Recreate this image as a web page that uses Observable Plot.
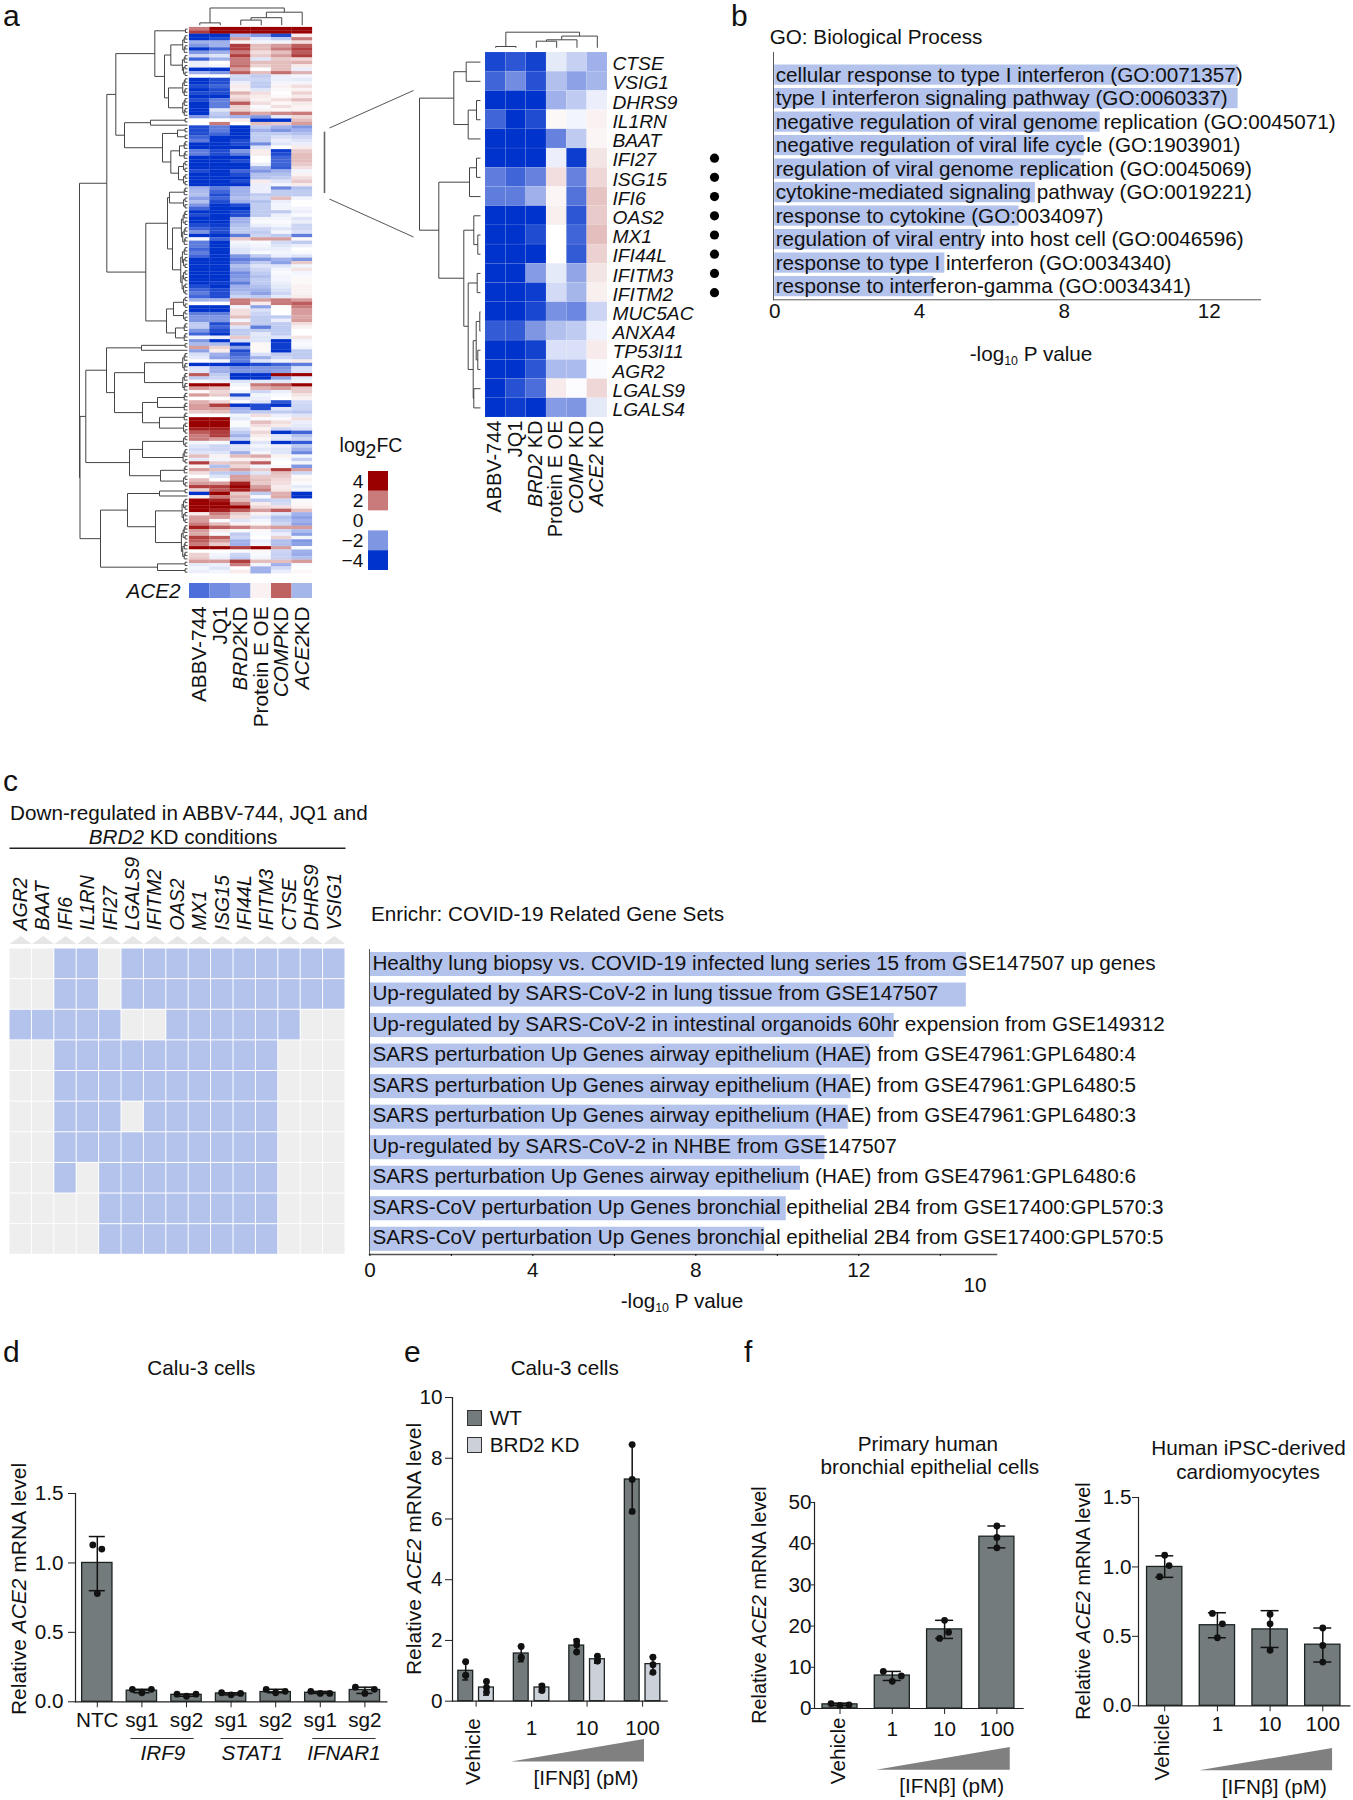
<!DOCTYPE html>
<html><head><meta charset="utf-8">
<script src="https://cdn.jsdelivr.net/npm/d3@7"></script>
<script src="https://cdn.jsdelivr.net/npm/@observablehq/plot@0.6"></script>
<style>
html,body{margin:0;padding:0;background:#fff}
#root{position:relative;width:1353px;height:1800px;overflow:hidden;font-family:"Liberation Sans",Arial,sans-serif;color:#111}
.lb{position:absolute;white-space:nowrap;line-height:1}
.lb sub{font-size:60%;line-height:0;vertical-align:-0.35em}
.lb sub.full{font-size:100%;vertical-align:-0.3em}
</style></head><body><div id="root"></div>
<script>
// ---------- data: panel a ----------
const conditionsMain=["ABBV-744","JQ1","BRD2KD","Protein E OE","COMPKD","ACE2KD"];
const conditionsZoom=["ABBV-744","JQ1","BRD2 KD","Protein E OE","COMP KD","ACE2 KD"];
const ace2Row=[-2.8,-2.2,-1.8,0.2,2.4,-1.4];
const heatUpper=[
[2,4,4,4,4,4],[3,4,4,4,4,4],[-4,-4,-1.5,-2,-3.5,0.3],[-4,-3.5,1.5,-0.5,-1,2],[-1.5,-1.5,0.2,-0.2,-0.2,0.5],
[-2,-1.5,3,1,1.5,2.5],[-4,-3,3,1,2,3],[-2,-1.5,2,0.5,1,2.5],[-0.7,-0.5,3,0.8,1.5,3],
[-3,-1.5,2,-0.5,0.8,0.6],[-0.3,0,2,1,1,1.2],[-0.3,-0.2,2.3,0.7,1,0.3],[-4,-4,1.5,0,1,-0.3],
[-1.5,-2,2.5,1,2.2,1.2],[0,0,-0.7,-1,-0.3,-0.2],[-4,-3.5,-0.8,-0.8,-0.3,-0.4],[-4,-3.5,-0.3,-1,-0.2,-0.2],
[-3.5,-3,0.3,-1,0.2,0.5],[-4,-3.5,0.2,-0.5,0.1,0.2],[-3.5,-3.5,1.2,0.5,0,0.7],
[-4,-4,0.5,0.3,0.1,0.3],[-3.5,-2.5,0.8,0.2,0.5,1],[-4,-2.5,2.5,0.5,0.1,0.3],[-4,-2.5,0.7,-0.1,0.5,0.2],
[-4,-0.5,0.7,0.2,0.1,0.2],[-4,-1,2.2,1.3,1.8,2],[-2,-1.2,-1.5,-2,-0.4,0.6],[0,0,0.3,-4,-4,1],[0,2,0,1,0.8,1.5]];
const heatBlue=[
[-3.5,-2.5,-4,-1,-1.5,-2],[-3.5,-2.5,-4,-1.5,-2,-1.5],[-3.5,-3,-4,-1,-1,-1.2],[-3,-4,-4,-1,-0.6,-0.8],
[-2.5,-4,-3.5,-1,-0.3,-0.5],[-4,-4,-3.5,-2.2,-0.5,-0.3],[-4,-4,-4,-0.5,0,0.3],[-2.5,-3.5,-2,0.3,-3.8,0.8],[-2.5,-3.5,-2.5,0.3,-3.5,1],
[-4,-4,-4,0,-3,1],[-4,-4,-3.5,0,-3,1],[-4,-4,-4,-0.3,-3,0.8],[-4,-4,-4,-1.5,-3.2,0.5],
[-3.5,-4,-3,-2,-1.5,-0.2],[-4,-4,-3.5,-1.2,-1.2,0.2],[-4,-4,-4,-1.2,-1,0.5],[-4,-4,-3.5,0.3,-0.5,0.8],
[-4,-4,-4,-0.3,-0.2,0.3],[-1.5,-2.5,-1.5,-0.3,-2.3,-1.2],[-1.3,-3,-1.5,-0.3,-1,-1],[-1.2,-3.5,-1.5,-1,-1,-1],
[-1.8,-3,-1.2,-0.8,1,-0.2],[-1.2,-3.5,-1.5,-1.2,-0.3,0],[-2,-4,-3.5,-1,-0.2,0],[-3,-4,-4,-1,-0.2,-0.2],[-4,-4,-3.5,-1,-1,-0.3],
[-3.5,-4,-3.5,-1,-0.3,-0.1],[-4,-4,-1.5,-0.2,-0.2,-0.5],[-4,-4,-1.5,-0.1,-0.1,-0.3],[-3.5,-3.8,-1.2,-0.3,-0.2,-0.8],
[-3,-3.5,-1,-0.8,-0.5,-0.8],[-2,-3.5,-1,-1,-0.2,-0.6],[-4,-4,-2.5,-0.8,-1,-2.5],[-0.2,-3,0.8,1.5,1.5,0.1],
[-2.5,-4,-0.2,-0.1,-0.7,-1],[-2.5,-4,-0.3,-0.2,-0.5,-0.3],[-3,-4,-0.5,-0.3,-0.3,0],[-2.5,-4,-0.5,-0.1,-0.2,-0.1],[-3,-4,-2,-1,-0.3,-0.5],
[-4,-4,-2.5,-2,-1.5,-2],[-4,-4,-2,-1,-1.8,0.8],[-4,-4,-1.2,-0.5,-0.5,-0.2],[-4,-4,-1.5,-0.8,-0.2,0.4],[-4,-4,-2.2,-1,-0.1,-0.2],
[-4,-4,-2,-1.2,-0.2,-0.1],[-4,-4,-1.8,-1,-0.2,0.1],[-4,-3.8,-2.5,-1,-0.3,0.1],[-3.5,-4,-1.5,-1.2,-0.4,0.2],
[-3,-3.5,-1.5,-1.5,-0.6,0.2],[-2.5,-3.5,-1.2,-1.8,-0.8,0.2],[-3,-3.5,-0.8,-1,-0.4,0.3]];
const heatMiddle=[
[-1.5,-1.5,2,1.5,2,1.5],[0,0,2,0.3,2,2.5],[-4,-4,-0.2,-1.8,0,2],[-4,-4,0.5,-0.6,0,1.5],[-2.5,-2.5,0.5,-0.8,0,1.5],
[-2,-2,1,-1,-1,1.3],[-2,-2,-0.2,-1,-0.3,1.5],[-1,-3.5,1,-1,-1,0.5],[-1,-3,-0.5,-2.5,-1,0.2],[-2,-3.5,-1,-1,-1,0],
[-3,-4,-1,-0.4,-1,0],[-0.2,-0.3,0.8,-0.5,-0.5,0.4],[-2,-4,-0.6,-0.5,-4,-0.2],[-1.3,-1.3,-4,0.1,-3.8,-0.1],
[1.5,0.7,-1.8,0.1,-3.8,-0.2],[-1.8,0.3,-3.5,0.1,-4,-1],[-0.6,-1.5,-3,-0.6,-1,-1],[-0.4,-1.8,-2.5,-1.5,-0.8,-1],[0,-0.2,-2.5,-0.5,-0.2,0.3],
[-4,-4,-4,-3.5,-3,-2.5],[-0.5,-1.5,-2.2,-2,-2,-0.6],[-0.5,-1.5,-2,-2,-1.8,-0.6],[2.5,-1,-4,-4,4,4],
[-1,-0.8,-4,-4,-1.8,-0.4],[-0.1,-0.3,-0.5,-0.4,-0.4,-0.2],[4,4,-0.2,2,2.5,4],[1.5,1,0,1.2,1.5,0.8],[0.1,0.6,-0.2,-0.8,-0.3,0.8],
[1.5,0.8,-3.5,-0.2,-0.1,0.4],[0,0,-0.5,-0.3,0,0.2],[1.2,0.6,-0.1,-0.5,-3.3,-0.7],[1.5,3,-4,-3.5,-4,-0.8],[1.5,1.5,-1.5,-3.5,-0.5,-0.8],
[0.8,1,-1.3,-1,-1,-1.1],[0,0,-0.2,0.5,-0.3,-0.5]];
const heatLower=[
[4,4,-0.4,-0.1,-0.1,0.5],[4,4,-0.1,1,0.5,-0.3],[4,4,-0.1,0.5,0.3,-0.4],[3.5,3.5,-0.6,0.2,-0.8,-0.6],[2.5,3,-1,0.6,-4,-3],
[2,3,-1.5,0.3,-0.5,-1.2],[2,1.5,-0.8,0.1,-0.5,-0.8],[-0.2,-0.1,-4,-0.5,-4,-3.2],[-0.5,-0.8,-0.5,-0.2,-0.3,-1],[-0.7,-0.8,-0.6,-0.4,-0.5,-1.5],
[-0.5,-0.5,-1.5,-0.2,-0.5,-2.3],[1,0.2,1,1.3,0.2,-0.2],[-0.4,-0.2,0.2,0.3,-0.1,-0.9],[3,0.8,1,2.5,0,-0.2],[0.2,-1.2,0.6,-0.2,-0.1,-2],
[1.5,1,1.5,0.8,3,1.5],[0.5,-1,-1.2,-0.5,1,-0.8],[0,-0.5,1.5,0.8,0.8,0.1],[1,0,1.5,1,0.6,0.2],[1.5,1.5,3.5,0.8,0.5,-0.1],
[3,3,4,1.5,0.3,-0.4],[0.7,2.5,3.5,2,0.4,-0.2],[-4,4,0.8,-1,1.2,-4],[0.2,2,1.2,-0.1,1.3,-4],[4,3.5,1,-1,-0.8,-0.1],
[4,4,2,0.3,-0.7,0.1],[4,4,4,0.6,0.5,0.2],[4,3.5,2.5,1.5,2.5,1],[0.3,2,0.8,0.2,-0.5,-1.5],[1.5,1.5,0.5,-0.5,-1.2,-1.8],
[1.5,-0.1,-0.5,-0.2,-1,-1.5],[2,1,0.2,0.1,-0.8,-1.8],[3.5,2.5,2,1.2,1.5,1.5],[1.5,0.3,-0.1,0.1,-0.7,-1.3],
[1.3,-0.1,-1,-0.1,-0.3,-1.8],[3,2.5,-0.8,0,0.7,-0.2],[2.5,1.5,-1.5,-0.3,-1.2,-2],[2,0.8,-1.5,-0.2,-1.2,-1.8],[4,4,3,4,1.5,-0.1],
[0,0,-0.1,0.1,-0.8,-1.5],[0.7,-0.2,-0.8,-0.1,-0.9,-1.6],[0.8,-0.3,-1,-0.2,-0.9,-1.2],[1.5,1.5,3,1,1,1.5],
[-0.4,-0.3,2,-0.2,-1.5,-0.1],[-0.2,-0.5,0,-1.5,-0.7,0],[-0.3,-0.2,0.3,-1.5,-0.3,0.1]];
const zoomGenes=["CTSE","VSIG1","DHRS9","IL1RN","BAAT","IFI27","ISG15","IFI6","OAS2","MX1","IFI44L","IFITM3","IFITM2","MUC5AC","ANXA4","TP53I11","AGR2","LGALS9","LGALS4"];
const zoomValues=[[-3.6,-3.3,-3.7,-0.4,-0.9,-1.5],[-3,-2.2,-3.4,-1.2,-1.8,-1.4],[-4,-4,-4,-1.5,-1,-0.3],[-3,-4,-3.5,0.1,-0.2,0.2],[-4,-4,-4,-2.4,-1,0.15],
[-4,-4,-4,-0.3,-3.8,0.4],[-2.5,-3,-2.4,0.5,-2.4,0.6],[-2.5,-2.5,-1.5,0.15,-2.7,0.9],[-4,-4,-4,0.25,-3.3,0.8],[-4,-4,-3.5,0,-3,1],[-4,-4,-4,0,-3.2,0.7],
[-4,-4,-1.9,-0.4,-1.7,0.4],[-4,-4,-3.8,-0.7,-1.4,0.25],[-4,-4,-3.6,-2.1,-2.3,-0.8],[-3.2,-3.2,-2,-1.2,-1,-0.25],[-4,-4,-3.7,-0.6,-0.6,0.3],[-4,-4,-3.3,-1.3,-1.3,-0.1],[-4,-3.4,-2.8,0.3,-0.05,0.6],[-4,-3.8,-4,-1.9,-2,-0.4]];
const markedGenes=["IFI27","ISG15","IFI6","OAS2","MX1","IFI44L","IFITM3","IFITM2"];
const legendLevels=[["4",4],["2",2],["0",0],["\u22122",-2],["\u22124",-4]];
// dendrograms: node=[merge distance, child, child]; [distance, n] is a block of n rows; a bare 1 is one row
const treeMainRows=[108,
 [80.7,[71.7,[32.7,[2,2],[23,[16.7,13],[19,12]]],[63,[37,3],[25,[10,4],[16.7,[8,6],[9,8]]]]],[41.7,[20,[18,7],[15,26]],[21,[14,8],[12,6]]]],
 [107.5,[101.7,[81,[46,3],[73,[43,12],[45,[30,6],[28,7]]]],[58,[45,9],[27,7]]],[87,[60,[28,3],[32,19]],[30,4]]]];
const treeZoomRows=[61,[26.7,[14.3,1,1],[12.3,[4,1,1],1]],[41.7,[11,[4,1,1],1],[16.7,[6.7,1,[2.7,1,1]],[12.3,[3.3,1,1],[7.3,[4.3,[0.7,1,1],[2.7,1,1]],[6.7,1,1]]]]]];
const treeMainCols=[17.2,[2.3,1,1],[13,[7.5,[5.1,1,1],1],1]];
const treeZoomCols=[15.6,[1.3,1,1],[11.7,[8,[6.6,1,1],1],1]];
// ---------- data: panel b ----------
const goTerms=["cellular response to type I interferon (GO:0071357)","type I interferon signaling pathway (GO:0060337)","negative regulation of viral genome replication (GO:0045071)","negative regulation of viral life cycle (GO:1903901)","regulation of viral genome replication (GO:0045069)","cytokine-mediated signaling pathway (GO:0019221)","response to cytokine (GO:0034097)","regulation of viral entry into host cell (GO:0046596)","response to type I interferon (GO:0034340)","response to interferon-gamma (GO:0034341)"];
const goValues=[12.8,12.8,8.99,8.55,8.47,7.2,6.75,5.71,4.7,4.4];
// ---------- data: panel c ----------
const cGenes=["AGR2","BAAT","IFI6","IL1RN","IFI27","LGALS9","IFITM2","OAS2","MX1","ISG15","IFI44L","IFITM3","CTSE","DHRS9","VSIG1"];
const cMatrix=["001101111111111","001101111111111","111110011111100","001111111111000","001111111111000","001110111111000","001111111111000","001011111111000","000011111111000","000011111111000"];
const covidTerms=["Healthy lung biopsy vs. COVID-19 infected lung series 15 from GSE147507 up genes","Up-regulated by SARS-CoV-2 in lung tissue from GSE147507","Up-regulated by SARS-CoV-2 in intestinal organoids 60hr expension from GSE149312","SARS perturbation Up Genes airway epithelium (HAE) from GSE47961:GPL6480:4","SARS perturbation Up Genes airway epithelium (HAE) from GSE47961:GPL6480:5","SARS perturbation Up Genes airway epithelium (HAE) from GSE47961:GPL6480:3","Up-regulated by SARS-CoV-2 in NHBE from GSE147507","SARS perturbation Up Genes airway epithelium (HAE) from GSE47961:GPL6480:6","SARS-CoV perturbation Up Genes bronchial epithelial 2B4 from GSE17400:GPL570:3","SARS-CoV perturbation Up Genes bronchial epithelial 2B4 from GSE17400:GPL570:5"];
const covidValues=[14.64,14.64,12.87,12.27,11.81,11.74,11.17,10.57,10.22,9.69];
// ---------- data: panels d, e, f ----------
const dLabels=["NTC","IRF9 sg1","IRF9 sg2","STAT1 sg1","STAT1 sg2","IFNAR1 sg1","IFNAR1 sg2"];
const dMeans=[1,0.08,0.05,0.06,0.07,0.065,0.085];
const dLow=[0.8,0.065,0.04,0.05,0.065,0.06,0.06];
const dHigh=[1.19,0.09,0.055,0.065,0.09,0.075,0.105];
const dPoints=[[1.13,1.1,0.78],[0.09,0.09,0.065],[0.055,0.055,0.04],[0.065,0.06,0.05],[0.09,0.075,0.065],[0.075,0.06,0.06],[0.105,0.09,0.06]];
const dJitter=[[-4.5,4.5,0],[-9.5,9.5,0],[-9.5,9.5,0],[-9.5,9.5,0],[-9.5,9.5,0],[-9.5,9.5,0],[-9.5,9.5,0]];
const dGroups=[{name:"IRF9",from:1.23,to:2.65,at:1.96},{name:"STAT1",from:3.25,to:4.66,at:3.96},{name:"IFNAR1",from:5.31,to:6.73,at:6.02}];
const doseLabels=["Vehicle","1","10","100"];
const eWT=[1,1.57,1.83,7.3], eWTLow=[0.7,1.3,1.6,6.2], eWTHigh=[1.3,1.82,2.03,8.45];
const eWTPoints=[[1.3,0.85,0.85],[1.8,1.42,1.45],[1.98,1.85,1.62],[8.45,7.3,6.25]];
const eKD=[0.45,0.45,1.38,1.22], eKDLow=[0.2,0.3,1.25,0.9], eKDHigh=[0.65,0.55,1.5,1.47];
const eKDPoints=[[0.65,0.45,0.3],[0.5,0.4,0.35],[1.48,1.32,1.33],[1.45,1.2,0.95]];
const fBronchial=[1,8,19.2,41.7], fBronchialLow=[0.7,6.8,17,39], fBronchialHigh=[1.3,9,21.4,44.3];
const fBronchialPoints=[[1.2,0.75,0.9],[9,6.6,7.9],[21.4,18.5,17],[44.3,41.5,39]];
const fBronchialJitter=[[-9,0,9],[-9,0,9],[0,4,-5],[0,0,0]];
const fCardio=[1,0.58,0.55,0.44], fCardioLow=[0.925,0.49,0.42,0.315], fCardioHigh=[1.08,0.67,0.685,0.56];
const fCardioPoints=[[1.085,1.01,0.93],[0.665,0.59,0.49],[0.66,0.59,0.4],[0.56,0.435,0.315]];
const fCardioJitter=[[0,4.4,-5],[-5,5,0],[0,0,0],[0,0,0]];

// ---------- helpers ----------
const root=document.getElementById("root");
const FONT='"Liberation Sans",Arial,sans-serif';
const SIZE=20.7;
const INK="#111", AXIS="#222", BLUE="#b4c3ec";
const heatColor={type:"linear",domain:[-4,-2,0,2,4],range:["#0033cc","#7f96e3","#ffffff","#c97b7b","#990000"],clamp:true};
const flush=domain=>({type:"band",domain,padding:0,round:false});
function label(html,x,y,{size=SIZE,anchor="middle",rotate=0}={}){
  const d=document.createElement("div");d.className="lb";d.innerHTML=html;
  const tx=anchor==="middle"?"-50%":anchor==="end"?"-100%":"0";
  d.style.cssText+=`left:${x}px;top:${y}px;font-size:${size}px;transform:translate(${tx},-50%) rotate(${rotate}deg);`;
  root.append(d);
}
function panel({L,T,R,B,pl=0,pt=0,pr=0,pb=0,xr,yr,italic},opts){
  const ox=L-pl, oy=T-pt;
  const o={width:R-L+pl+pr,height:B-T+pt+pb,marginLeft:pl,marginTop:pt,marginRight:pr,marginBottom:pb,
    style:{fontFamily:FONT,fontSize:SIZE+"px",background:"transparent",overflow:"visible",color:INK},...opts};
  o.x={...(opts.x||{})};o.y={...(opts.y||{})};
  if(xr)o.x.range=xr.map(v=>v-ox);
  if(yr)o.y.range=yr.map(v=>v-oy);
  const svg=Plot.plot(o);
  svg.style.position="absolute";svg.style.left=ox+"px";svg.style.top=oy+"px";
  if(italic)svg.querySelectorAll("text").forEach(t=>{
    if(italic.test(t.textContent))t.innerHTML=t.textContent.replace(italic,'<tspan font-style="italic">$&</tspan>');
  });
  root.append(svg);return svg;
}
function bandRange(first,step,n,p){const r0=first-step*(1+p)/2;return [r0,r0+step*(n+p)];}
// lay out a nested merge list into link segments (position along leaves, merge distance)
function dendrogram(tree){
  const segs=[];let cursor=0;
  const tiny=n=>0.9+1.5*Math.log2(n);
  function merge(h,a,b){
    const A=walk(a),B=walk(b);
    segs.push({p1:A.pos,h1:h,p2:B.pos,h2:h},{p1:A.pos,h1:A.h,p2:A.pos,h2:h},{p1:B.pos,h1:B.h,p2:B.pos,h2:h});
    return {pos:(A.pos+B.pos)/2,h};
  }
  function walk(node){
    if(typeof node==="number"){
      if(node===1){cursor+=1;return {pos:cursor-0.5,h:0};}
      const a=Math.ceil(node*0.42);return merge(tiny(node),a,node-a);
    }
    if(node.length===2){const n=node[1],a=Math.ceil(n*0.42);return merge(node[0],a,n-a);}
    return merge(node[0],node[1],node[2]);
  }
  walk(tree);
  return {segs,leaves:cursor};
}
function rowDendro(tree,box,maxH){
  const {segs,leaves}=dendrogram(tree);
  panel(box,{x:{domain:[maxH,0],axis:null},y:{domain:[leaves,0],axis:null},
    marks:[Plot.link(segs,{x1:"h1",x2:"h2",y1:"p1",y2:"p2",stroke:"#444",strokeWidth:1})]});
}
function colDendro(tree,box,maxH){
  const {segs,leaves}=dendrogram(tree);
  panel(box,{x:{domain:[0,leaves],axis:null},y:{domain:[0,maxH],axis:null},
    marks:[Plot.link(segs,{y1:"h1",y2:"h2",x1:"p1",x2:"p2",stroke:"#444",strokeWidth:1})]});
}
function wedge(L,R,T,B){
  panel({L,R,T,B},{x:{domain:[0,1],axis:null},y:{domain:[0,1],axis:null},
    marks:[Plot.areaY([0,1],{x:d=>d,y:d=>d,fill:"#808080"})]});
}
function barChart({box,xr,p=0,domain,series,yDomain,yTicks,yFormat=d3.format("d"),tickSize=6,tickPadding=4,vehicleX,xPad=3,capHalf=8,labelFormat}){
  const step=xr?(xr[1]-xr[0])/(domain.length+p):0, bw=step*(1-p);
  const marks=[];
  for(const s of series){
    const rows=domain.map((k,i)=>({k,mean:s.means[i],low:s.low[i],high:s.high[i]}));
    const dx=s.dx||0, capInset=bw/2-(s.cap||capHalf);
    marks.push(Plot.barY(rows,{x:"k",y:"mean",fill:s.fill,stroke:"#1b2323",strokeWidth:1.3,insetLeft:s.il||0,insetRight:s.ir||0}));
    marks.push(Plot.ruleX(rows,{x:"k",y1:"low",y2:"high",stroke:"#111",strokeWidth:1.5,dx}));
    for(const key of ["low","high"])
      marks.push(Plot.tickY(rows,{x:"k",y:key,stroke:"#111",strokeWidth:1.5,dx,insetLeft:capInset,insetRight:capInset}));
    const pts=[];
    domain.forEach((k,i)=>s.pts[i].forEach((v,j)=>pts.push({k,v,off:dx+(s.jitter?s.jitter[i][j]:0)})));
    for(const [off,group] of d3.group(pts,d=>d.off))
      marks.push(Plot.dot(group,{x:"k",y:"v",dx:off,r:3.4,fill:"#111"}));
  }
  marks.push(Plot.frame({anchor:"left",stroke:AXIS,strokeWidth:1.2}),Plot.frame({anchor:"bottom",stroke:AXIS,strokeWidth:1.2}));
  marks.push(Plot.axisY({ticks:yTicks,tickFormat:yFormat,tickSize,tickPadding,label:null,stroke:AXIS}));
  marks.push(Plot.axisX({tickSize:6,tickPadding:xPad,label:null,stroke:AXIS,tickFormat:labelFormat||(d=>d==="Vehicle"?"":d)}));
  if(vehicleX)marks.push(Plot.text(["Vehicle"],{x:d=>d,y:()=>0,text:d=>d,rotate:-90,textAnchor:"end",dy:vehicleX.dy,dx:vehicleX.dx||0}));
  return panel({...box,xr},{x:{type:"band",domain,padding:p,round:false},y:{domain:yDomain},marks});
}
const yLabel=(x,y,size=21)=>label('Relative <i>ACE2</i> mRNA level',x,y,{size,rotate:-90});

// ---------- panel letters ----------
[["a",3,16],["b",731,16],["c",3,781],["d",3,1352],["e",404,1352],["f",744,1352]].forEach(([t,x,y])=>label(t,x,y,{size:30,anchor:"start"}));

// ---------- panel a ----------
const heatRows=[...heatUpper,...heatBlue,...heatMiddle,...heatLower];
const heatCells=heatRows.flatMap((r,i)=>r.map((v,j)=>({row:i,c:conditionsMain[j],v})));
const MAINT=26.7,MAINB=573;
panel({L:189,R:312,T:MAINT,B:MAINB},{x:{...flush(conditionsMain),axis:null},
  y:{...flush(d3.range(heatRows.length)),axis:null},color:heatColor,
  marks:[Plot.cell(heatCells,{x:"c",y:"row",fill:"v",stroke:"v",strokeWidth:0.2,inset:0})]});
panel({L:189,R:312,T:583,B:598,pl:100,pb:140,italic:/BRD2|COMP|ACE2/},{x:flush(conditionsMain),y:flush(["ACE2"]),color:heatColor,
  marks:[Plot.cell(ace2Row.map((v,j)=>({c:conditionsMain[j],v})),{x:"c",y:()=>"ACE2",fill:"v",inset:0}),
    Plot.axisY({tickSize:0,tickPadding:9,fontStyle:"italic",label:null}),
    Plot.axisX({tickRotate:-90,tickSize:0,tickPadding:8,label:null})]});
rowDendro(treeMainRows,{L:78,R:187,T:MAINT,B:MAINB},109);
colDendro(treeMainCols,{L:189,R:312,T:5,B:24.7},19.7);
// legend
label('log<sub class="full">2</sub>FC',371,446,{size:19.5});
panel({L:368,R:388,T:471,B:570,pl:30},{x:{axis:null,domain:[0,1]},y:flush(legendLevels.map(d=>d[0])),color:heatColor,
  marks:[Plot.cell(legendLevels,{y:d=>d[0],fill:d=>d[1],inset:0}),Plot.axisY({tickSize:0,tickPadding:5,fontSize:19.2,label:null})]});
// connectors between the heatmap and its detail
panel({L:324,R:413,T:89.5,B:236},{x:{domain:[0,1],axis:null},y:{domain:[1,0],axis:null},
  marks:[Plot.link([{a:0.056,b:0.256,c:1,d:0},{a:0.056,b:0.741,c:1,d:1}],{x1:"a",y1:"b",x2:"c",y2:"d",stroke:"#555",strokeWidth:1}),
    Plot.link([{a:0,b:0.281,c:0,d:0.70}],{x1:"a",y1:"b",x2:"c",y2:"d",stroke:"#666",strokeWidth:1.6})]});
// detail heatmap
const zoomCells=zoomValues.flatMap((r,i)=>r.map((v,j)=>({g:zoomGenes[i],c:conditionsZoom[j],v})));
panel({L:485,R:607,T:51.7,B:416.7,pr:110,pb:150,italic:/BRD2|COMP|ACE2/},{x:flush(conditionsZoom),y:flush(zoomGenes),color:heatColor,
  marks:[Plot.cell(zoomCells,{x:"c",y:"g",fill:"v",stroke:"#fff",strokeOpacity:0.12,strokeWidth:0.6,inset:0}),
    Plot.axisY({anchor:"right",tickSize:0,tickPadding:5,fontStyle:"italic",fontSize:19.2,label:null,dy:2}),
    Plot.axisX({tickRotate:-90,tickSize:0,tickPadding:3,fontSize:20,label:null,dx:-0.7})]});
rowDendro(treeZoomRows,{L:419,R:480,T:51.7,B:416.7},61);
colDendro(treeZoomCols,{L:485,R:607,T:30,B:47.3},17.3);
panel({L:704,R:724,T:51.7,B:416.7},{x:{axis:null,domain:[0,1]},y:{...flush(zoomGenes),axis:null},
  marks:[Plot.dotY(markedGenes,{y:d=>d,r:4.6,fill:"#000"})]});

// ---------- panel b ----------
label("GO: Biological Process",769.7,37,{anchor:"start"});
const goRows=goTerms.map((t,i)=>({t,v:goValues[i]}));
panel({L:773.3,R:1260.4,T:52,B:299.3,pb:28,yr:bandRange(74.6,23.5,10,0.14)},{x:{domain:[-0.033,13.42]},y:{type:"band",domain:goTerms,axis:null,padding:0.14,round:false},
  marks:[Plot.barX(goRows,{x1:()=>0,x2:"v",y:"t",fill:BLUE}),
    Plot.text(goRows,{x:()=>0,y:"t",text:"t",textAnchor:"start",dx:1,fill:INK}),
    Plot.frame({anchor:"left",stroke:"#555"}),Plot.frame({anchor:"bottom",stroke:"#555"}),
    Plot.axisX({ticks:[0,4,8,12],tickSize:0,tickPadding:4,label:null})]});
label("-log<sub>10</sub> P value",1031,354);

// ---------- panel c ----------
label("Down-regulated in ABBV-744, JQ1 and",10,813,{anchor:"start"});
label("<i>BRD2</i> KD conditions",183,837);
panel({L:9,R:345,T:847,B:848.5},{x:{axis:null,domain:[0,1]},y:{axis:null,domain:[0,1]},marks:[Plot.frame({fill:"#222"})]});
const cCells=cMatrix.flatMap((r,i)=>cGenes.map((g,j)=>({row:i,g,on:r[j]==="1"})));
const peak={draw(ctx){ctx.moveTo(-11,4);ctx.lineTo(0,-4);ctx.lineTo(11,4);ctx.closePath();}};
panel({L:9,R:345,T:947.7,B:1254,pt:120},{x:flush(cGenes),y:{...flush(d3.range(cMatrix.length)),axis:null},
  marks:[Plot.cell(cCells,{x:"g",y:"row",fill:d=>d.on?BLUE:"#eeeeee",inset:0.5}),
    Plot.dot(cGenes,{x:d=>d,frameAnchor:"top",dy:-8.4,symbol:peak,fill:"#e6e6e6"}),
    Plot.axisX({anchor:"top",tickRotate:-90,tickSize:0,tickPadding:18,fontStyle:"italic",fontSize:19.5,label:null})]});
label("Enrichr: COVID-19 Related Gene Sets",371,914,{anchor:"start"});
const covidRows=covidTerms.map((t,i)=>({t,v:covidValues[i]}));
panel({L:369,R:996,T:949,B:1254,pb:28,yr:bandRange(964,30.53,10,0.213)},{x:{domain:[-0.01,15.38]},y:{type:"band",domain:covidTerms,axis:null,padding:0.213,round:false},
  marks:[Plot.barX(covidRows,{x1:()=>0,x2:"v",y:"t",fill:BLUE}),
    Plot.text(covidRows,{x:()=>0,y:"t",text:"t",textAnchor:"start",dx:2.5,dy:-1.5,fill:INK}),
    Plot.frame({anchor:"left",stroke:"#555"}),Plot.frame({anchor:"bottom",stroke:"#555",strokeWidth:1.5}),
    Plot.axisX({ticks:[0,2,4,6,8,10,12,14],tickSize:2,tickPadding:6,label:null,tickFormat:d=>d%4===0&&d<14?d:""})]});
label("-log<sub>10</sub> P value",682,1301);
label("10",975,1285);

// ---------- panel d ----------
label("Calu-3 cells",201.3,1368);yLabel(17.9,1589);
barChart({box:{L:74.6,R:386,T:1492.7,B:1701,pl:40,pb:30},xr:bandRange(96.4,44.6,7,0.32),p:0.32,domain:dLabels,
  series:[{means:dMeans,low:dLow,high:dHigh,pts:dPoints,jitter:dJitter,fill:"#737b7d"}],yDomain:[0,1.5],yTicks:[0,0.5,1,1.5],yFormat:d3.format(".1f"),
  tickSize:7,tickPadding:5,capHalf:8,xPad:5,labelFormat:d=>d.split(" ").pop()});
panel({L:74.6,R:386.8,T:1738,B:1762},{x:{domain:[0,7],axis:null},y:{domain:[0,1],axis:null},
  marks:[Plot.link(dGroups,{x1:"from",x2:"to",y1:()=>1,y2:()=>1,stroke:"#333",strokeWidth:1.2}),
    Plot.text(dGroups,{x:"at",y:()=>0.38,text:"name",fontStyle:"italic"})]});

// ---------- panel e ----------
label("Calu-3 cells",564.7,1368);yLabel(413,1549);
barChart({box:{L:451.8,R:666.5,T:1397.3,B:1701,pl:40,pb:30},xr:bandRange(475.4,55.5,4,0),p:0,domain:doseLabels,
  series:[{means:eWT,low:eWTLow,high:eWTHigh,pts:eWTPoints,fill:"#737b7d",il:10,ir:30.7,dx:-10.4,cap:3},
          {means:eKD,low:eKDLow,high:eKDHigh,pts:eKDPoints,fill:"#ccd0d8",il:30.7,ir:10,dx:10.4,cap:3}],
  yDomain:[0,10],yTicks:[0,2,4,6,8,10],tickSize:7,tickPadding:3,vehicleX:{dy:17,dx:-2.4},xPad:13});
[["WT","#737b7d",1410],["BRD2 KD","#ccd0d8",1437]].forEach(([t,c,y])=>{
  const d=document.createElement("div");d.style.cssText=`position:absolute;left:466.5px;top:${y}px;width:13px;height:14px;background:${c};border:1.5px solid #333`;root.append(d);
  label(t,489.7,y+8,{anchor:"start"});
});
wedge(511,644,1739.3,1761.7);
label("[IFN\u03b2] (pM)",586,1778);

// ---------- panel f ----------
label("Primary human",927.9,1444);label("bronchial epithelial cells",929.8,1467);yLabel(759.8,1605,19.8);
barChart({box:{L:814.2,R:1022.8,T:1502.3,B:1708.3,pl:40,pb:30},xr:bandRange(839.7,52.3,4,0.33),p:0.33,domain:doseLabels,
  series:[{means:fBronchial,low:fBronchialLow,high:fBronchialHigh,pts:fBronchialPoints,jitter:fBronchialJitter,fill:"#737b7d"}],
  yDomain:[0,50],yTicks:[0,10,20,30,40,50],tickSize:3,tickPadding:0,vehicleX:{dy:9,dx:-1.7},xPad:6.7,capHalf:9});
wedge(876.2,1010,1747.3,1770);
label("[IFN\u03b2] (pM)",951.7,1786);

label("Human iPSC-derived",1248.5,1448);label("cardiomyocytes",1248,1472);yLabel(1083.6,1601,19.8);
barChart({box:{L:1138.4,R:1349.8,T:1496.7,B:1705,pl:40,pb:30},xr:bandRange(1164.6,52.7,4,0.33),p:0.33,domain:doseLabels,
  series:[{means:fCardio,low:fCardioLow,high:fCardioHigh,pts:fCardioPoints,jitter:fCardioJitter,fill:"#737b7d"}],
  yDomain:[0,1.5],yTicks:[0,0.5,1,1.5],yFormat:d3.format(".1f"),tickSize:6,tickPadding:1,vehicleX:{dy:8,dx:-2.7},xPad:5,capHalf:9});
wedge(1198.8,1331.9,1747.7,1770);
label("[IFN\u03b2] (pM)",1274.3,1787);
</script></body></html>
